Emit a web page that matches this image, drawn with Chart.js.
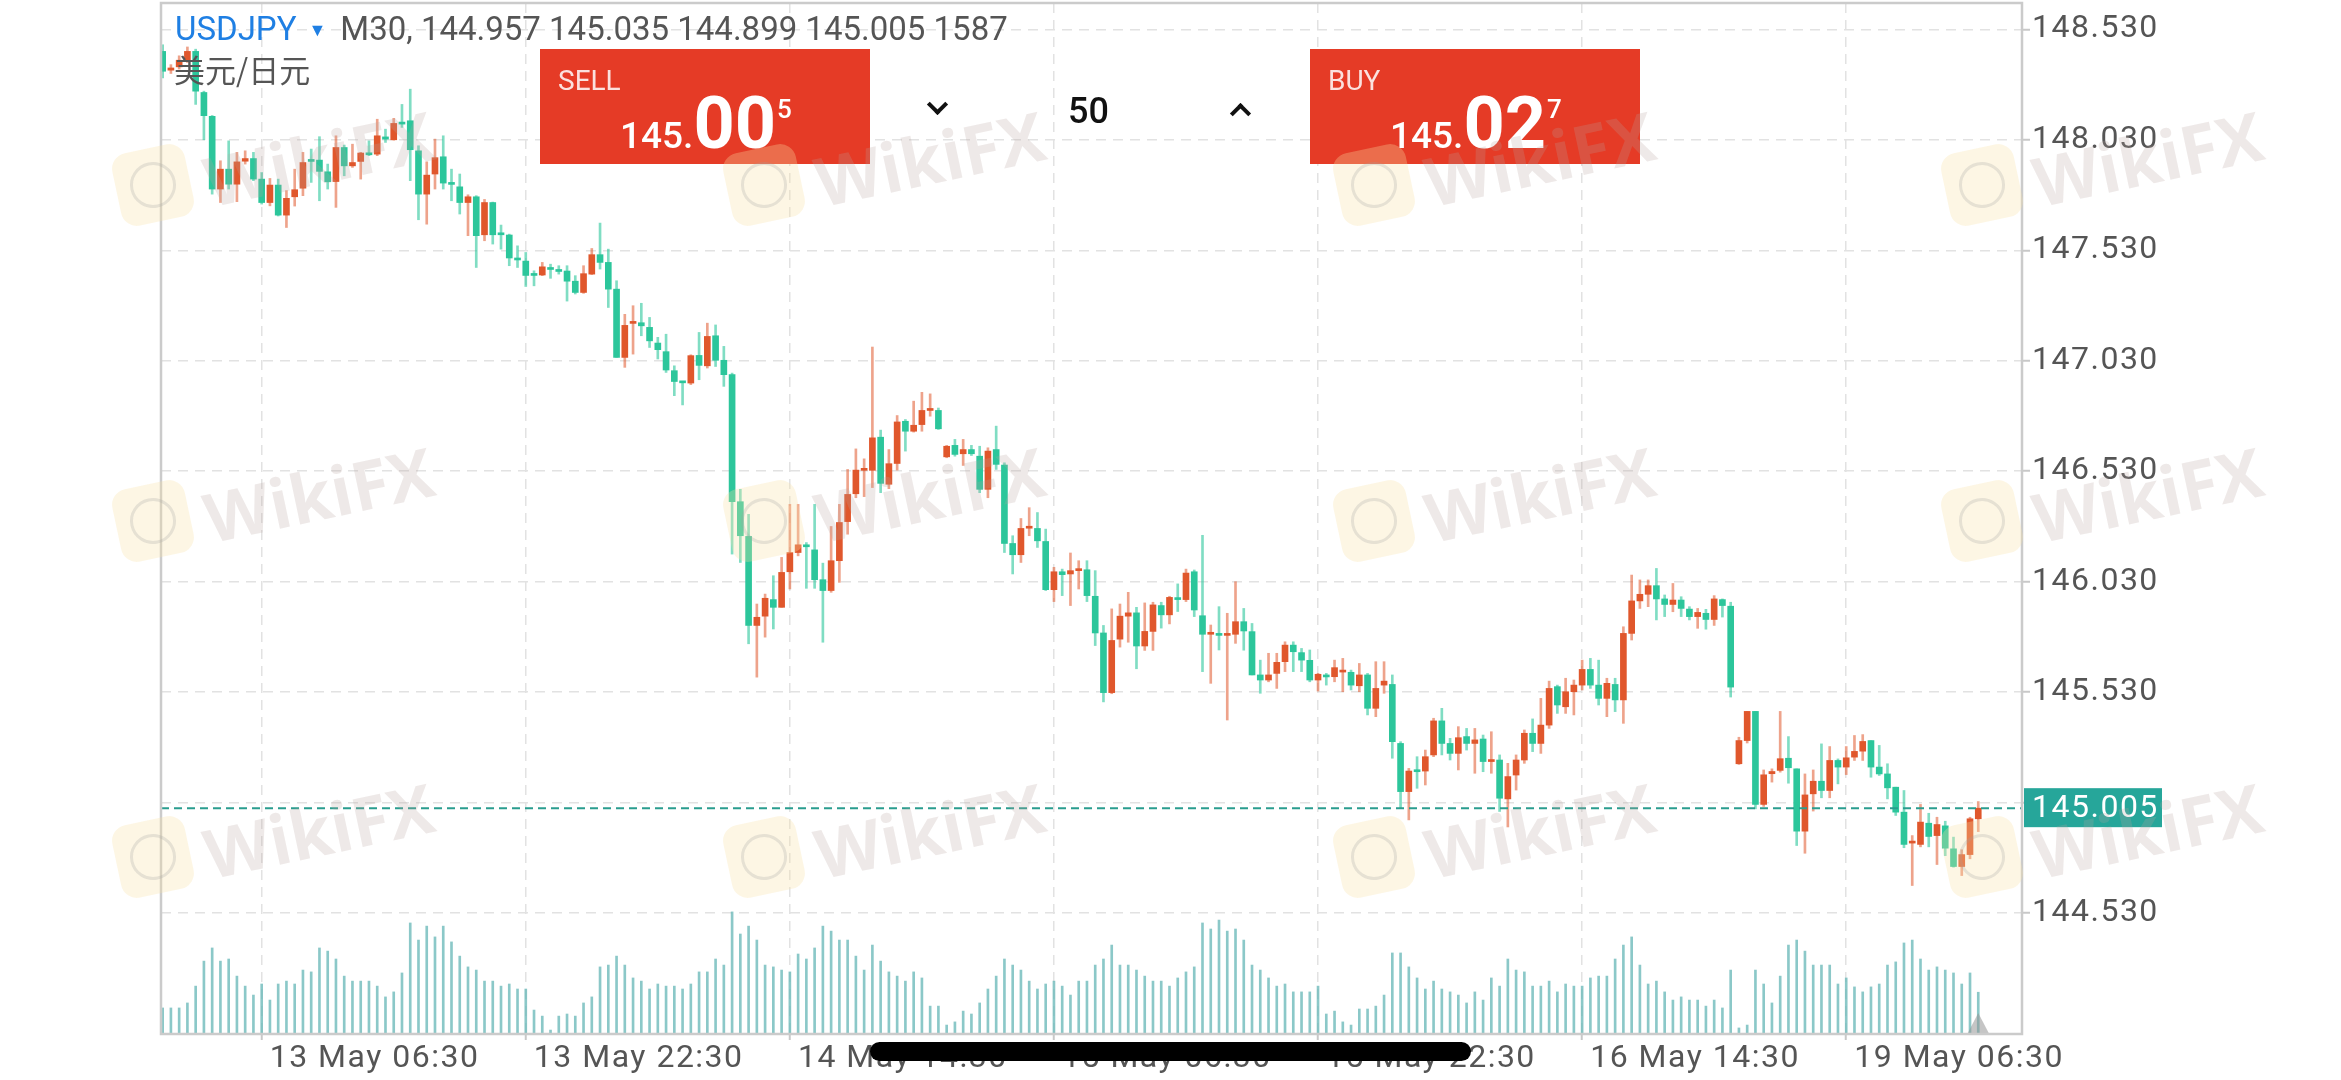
<!DOCTYPE html>
<html>
<head>
<meta charset="utf-8">
<script src="https://cdn.jsdelivr.net/npm/chart.js@4.4.1/dist/chart.umd.min.js"></script>
<style>
  body { margin: 0; background: #fff; overflow: hidden; }
  #wrap { position: relative; width: 2341px; height: 1080px; }
  canvas { position: absolute; left: 0; top: 0; }
  #hdr { position: absolute; left: 175px; top: 9px; font: 33px Roboto, sans-serif; color: #555; white-space: nowrap; line-height: 40px; }
  #hdr .sym { color: #1f7fe3; }
  #hdr .tri { color: #1f7fe3; font-size: 18px; margin: 0 14px 0 12px; vertical-align: 4px; }
  #pair { position: absolute; left: 174px; top: 51px; font: 31px "Noto Sans CJK SC", sans-serif; color: #555; line-height: 36px; }
  .box { position: absolute; top: 49px; width: 330px; height: 115px; background: #e53b26; }
  .box .lbl { position: absolute; left: 18px; top: 18px; font: 28px Roboto, sans-serif; line-height: 1; color: rgba(255,255,255,0.85); }
  .box .px { position: absolute; left: 80px; bottom: 4px; color: #fff; font-family: Roboto, sans-serif; display: flex; align-items: baseline; line-height: 1; }
  .px .a { font-size: 37px; font-weight: 500; }
  .px .b { font-size: 72px; font-weight: 700; }
  .px .c { font-size: 26px; font-weight: 500; align-self: flex-start; margin-top: 8px; margin-left: 1px; }
  .chev { position: absolute; width: 11px; height: 11px; border: solid #111; }
  #lots { position: absolute; left: 1068px; top: 93px; font: 500 36px Roboto, sans-serif; color: #111; line-height: 1; }
  #pill { position: absolute; left: 870px; top: 1042px; width: 601px; height: 19px; border-radius: 10px; background: #000; }
  .wm { position: absolute; font: 700 68px "Open Sans", sans-serif; color: rgba(185,165,160,0.24); transform: rotate(-12deg); transform-origin: left center; white-space: nowrap; pointer-events: none; }
  .lg { position: absolute; width: 74px; height: 74px; border-radius: 16px; background: rgba(250,226,165,0.3); transform: rotate(-12deg); pointer-events: none; }
  .lg::after { content: ''; position: absolute; left: 14px; top: 14px; width: 40px; height: 40px; border-radius: 50%; border: 3px solid rgba(160,160,160,0.25); }
</style>
</head>
<body>
<div id="wrap">
  <canvas id="chart" width="2341" height="1080"></canvas>
  <div id="hdr"><span class="sym">USDJPY</span><span class="tri">▼</span><span id="ohlc"></span></div>
  <div id="pair">美元/日元</div>
  <div class="box" style="left:540px"><div class="lbl">SELL</div><div class="px" id="sellPx"></div></div>
  <div class="box" style="left:1310px"><div class="lbl">BUY</div><div class="px" id="buyPx"></div></div>
  <div class="chev" style="left:930px;top:97px;border-width:0 4px 4px 0;transform:rotate(45deg)"></div>
  <div id="lots">50</div>
  <div class="chev" style="left:1233px;top:106px;border-width:4px 0 0 4px;transform:rotate(45deg)"></div>
  <div id="pill"></div>
</div>
<script>
const opens = [
  148.430, 148.345, 148.360, 148.390, 148.430, 148.244, 148.136, 147.807, 147.897, 147.829,
  147.933, 147.945, 147.852, 147.746, 147.825, 147.689, 147.772, 147.811, 147.937, 147.938,
  147.885, 147.841, 147.995, 147.912, 147.932, 147.970, 147.965, 148.043, 148.030, 148.108,
  148.116, 147.980, 147.784, 147.875, 147.953, 147.831, 147.817, 147.746, 147.772, 147.600,
  147.746, 147.603, 147.599, 147.490, 147.481, 147.419, 147.418, 147.449, 147.440, 147.436,
  147.390, 147.339, 147.422, 147.510, 147.475, 147.354, 147.045, 147.199, 147.202, 147.181,
  147.110, 147.071, 146.985, 146.935, 146.929, 147.054, 147.007, 147.143, 147.032, 146.967,
  146.392, 146.235, 145.832, 145.874, 145.949, 145.914, 146.075, 146.162, 146.195, 146.174,
  146.039, 145.990, 146.125, 146.302, 146.428, 146.534, 146.534, 146.684, 146.471, 146.565,
  146.756, 146.711, 146.741, 146.805, 146.805, 146.595, 146.647, 146.609, 146.628, 146.598,
  146.448, 146.628, 146.558, 146.203, 146.152, 146.272, 146.271, 146.212, 145.994, 146.075,
  146.065, 146.080, 146.084, 145.964, 145.798, 145.528, 145.770, 145.874, 145.889, 145.739,
  145.805, 145.922, 145.880, 145.955, 145.949, 146.075, 145.876, 145.792, 145.792, 145.787,
  145.792, 145.849, 145.804, 145.608, 145.585, 145.615, 145.668, 145.743, 145.709, 145.674,
  145.585, 145.608, 145.600, 145.621, 145.620, 145.559, 145.608, 145.457, 145.562, 145.565,
  145.298, 145.080, 145.173, 145.173, 145.246, 145.400, 145.298, 145.253, 145.329, 145.298,
  145.318, 145.216, 145.223, 145.047, 145.155, 145.223, 145.344, 145.298, 145.381, 145.555,
  145.464, 145.532, 145.562, 145.633, 145.562, 145.502, 145.565, 145.495, 145.796, 145.943,
  145.973, 146.012, 145.952, 145.927, 145.947, 145.906, 145.872, 145.887, 145.859, 145.949,
  145.919, 145.206, 145.311, 145.443, 145.022, 145.161, 145.176, 145.231, 145.183, 144.901,
  145.070, 145.127, 145.085, 145.221, 145.191, 145.236, 145.263, 145.311, 145.191, 145.160,
  145.100, 144.987, 144.847, 144.841, 144.937, 144.881, 144.925, 144.821, 144.741, 144.795,
  144.957
];
const highs = [
  148.460, 148.370, 148.410, 148.450, 148.440, 148.250, 148.140, 147.935, 148.025, 147.973,
  147.980, 147.973, 147.882, 147.855, 147.852, 147.800, 147.897, 147.973, 147.988, 148.044,
  147.920, 148.048, 148.006, 148.010, 147.973, 148.025, 148.123, 148.078, 148.127, 148.190,
  148.259, 148.003, 147.930, 148.033, 148.048, 147.897, 147.875, 147.781, 147.777, 147.760,
  147.748, 147.644, 147.603, 147.550, 147.520, 147.437, 147.475, 147.467, 147.460, 147.460,
  147.415, 147.460, 147.538, 147.653, 147.535, 147.392, 147.240, 147.279, 147.290, 147.226,
  147.136, 147.150, 147.007, 146.937, 147.057, 147.158, 147.200, 147.192, 147.095, 146.974,
  146.448, 146.335, 145.929, 145.974, 146.057, 146.140, 146.380, 146.380, 146.207, 146.380,
  146.114, 146.280, 146.380, 146.538, 146.631, 146.586, 147.092, 146.716, 146.628, 146.782,
  146.764, 146.847, 146.887, 146.880, 146.816, 146.647, 146.674, 146.674, 146.647, 146.643,
  146.636, 146.734, 146.568, 146.238, 146.316, 146.365, 146.343, 146.268, 146.095, 146.087,
  146.160, 146.125, 146.125, 146.080, 145.832, 145.907, 145.929, 145.982, 145.914, 145.934,
  145.937, 145.937, 145.964, 146.020, 146.087, 146.083, 146.240, 145.834, 145.917, 145.887,
  146.030, 145.909, 145.841, 145.675, 145.706, 145.706, 145.758, 145.758, 145.728, 145.721,
  145.615, 145.615, 145.675, 145.683, 145.630, 145.660, 145.615, 145.668, 145.668, 145.608,
  145.306, 145.185, 145.238, 145.268, 145.412, 145.457, 145.321, 145.374, 145.366, 145.366,
  145.336, 145.351, 145.246, 145.208, 145.246, 145.359, 145.409, 145.502, 145.580, 145.562,
  145.593, 145.585, 145.675, 145.683, 145.675, 145.593, 145.593, 145.826, 146.060, 146.038,
  146.038, 146.090, 145.970, 146.022, 145.962, 145.917, 145.909, 145.905, 145.967, 145.952,
  145.937, 145.326, 145.443, 145.443, 145.178, 145.183, 145.443, 145.329, 145.183, 145.160,
  145.178, 145.296, 145.284, 145.228, 145.284, 145.334, 145.338, 145.311, 145.289, 145.206,
  145.100, 145.085, 144.881, 145.022, 144.982, 144.964, 144.946, 144.874, 144.817, 144.964,
  145.035
];
const lows = [
  148.310, 148.330, 148.350, 148.380, 148.190, 148.030, 147.784, 147.746, 147.807, 147.750,
  147.920, 147.845, 147.739, 147.731, 147.685, 147.633, 147.730, 147.777, 147.837, 147.754,
  147.807, 147.724, 147.867, 147.905, 147.852, 147.958, 147.958, 148.018, 148.028, 148.086,
  147.845, 147.668, 147.648, 147.807, 147.807, 147.754, 147.694, 147.596, 147.452, 147.573,
  147.558, 147.535, 147.460, 147.452, 147.366, 147.369, 147.415, 147.403, 147.422, 147.300,
  147.332, 147.335, 147.420, 147.445, 147.271, 147.045, 147.000, 147.060, 147.143, 147.090,
  147.038, 146.977, 146.872, 146.830, 146.922, 146.944, 146.997, 147.004, 146.914, 146.155,
  146.117, 145.749, 145.598, 145.779, 145.816, 145.914, 145.997, 146.147, 146.000, 146.000,
  145.756, 145.982, 146.027, 146.245, 146.410, 146.415, 146.456, 146.433, 146.451, 146.535,
  146.621, 146.707, 146.711, 146.779, 146.719, 146.591, 146.598, 146.556, 146.601, 146.433,
  146.410, 146.538, 146.162, 146.065, 146.117, 146.238, 146.185, 145.990, 145.940, 145.967,
  145.922, 145.997, 145.940, 145.741, 145.486, 145.523, 145.734, 145.756, 145.636, 145.719,
  145.719, 145.820, 145.839, 145.895, 145.940, 145.872, 145.623, 145.570, 145.721, 145.404,
  145.751, 145.720, 145.608, 145.525, 145.577, 145.547, 145.623, 145.623, 145.623, 145.577,
  145.535, 145.562, 145.577, 145.532, 145.540, 145.532, 145.427, 145.419, 145.525, 145.231,
  145.004, 144.952, 145.095, 145.110, 145.238, 145.246, 145.223, 145.178, 145.268, 145.163,
  145.170, 145.163, 144.990, 144.920, 145.087, 145.208, 145.261, 145.253, 145.366, 145.434,
  145.434, 145.427, 145.540, 145.547, 145.472, 145.419, 145.442, 145.389, 145.766, 145.909,
  145.917, 145.857, 145.872, 145.894, 145.872, 145.857, 145.819, 145.815, 145.832, 145.870,
  145.508, 145.203, 145.300, 145.002, 145.013, 145.123, 145.168, 145.118, 144.836, 144.801,
  144.992, 145.052, 145.052, 145.115, 145.157, 145.221, 145.221, 145.145, 145.153, 145.047,
  144.972, 144.826, 144.655, 144.830, 144.830, 144.750, 144.790, 144.738, 144.700, 144.776,
  144.899
];
const closes = [
  148.340, 148.355, 148.390, 148.430, 148.250, 148.139, 147.807, 147.897, 147.829, 147.930,
  147.945, 147.852, 147.746, 147.825, 147.689, 147.765, 147.804, 147.927, 147.932, 147.887,
  147.840, 147.995, 147.912, 147.927, 147.970, 147.962, 148.048, 148.033, 148.104, 148.101,
  147.985, 147.784, 147.870, 147.949, 147.834, 147.828, 147.746, 147.772, 147.596, 147.746,
  147.600, 147.600, 147.495, 147.486, 147.416, 147.416, 147.455, 147.443, 147.434, 147.390,
  147.339, 147.424, 147.510, 147.475, 147.354, 147.045, 147.190, 147.203, 147.188, 147.120,
  147.080, 146.988, 146.936, 146.930, 147.053, 147.009, 147.140, 147.032, 146.967, 146.392,
  146.238, 145.832, 145.869, 145.955, 145.914, 146.072, 146.162, 146.197, 146.188, 146.039,
  145.990, 146.125, 146.298, 146.425, 146.535, 146.538, 146.681, 146.475, 146.564, 146.753,
  146.711, 146.738, 146.805, 146.809, 146.722, 146.643, 146.606, 146.628, 146.609, 146.448,
  146.621, 146.561, 146.203, 146.152, 146.271, 146.276, 146.215, 145.994, 146.075, 146.062,
  146.080, 146.084, 145.967, 145.798, 145.528, 145.764, 145.874, 145.889, 145.739, 145.805,
  145.925, 145.880, 145.959, 145.949, 146.069, 145.902, 145.792, 145.795, 145.787, 145.792,
  145.849, 145.807, 145.608, 145.585, 145.608, 145.665, 145.743, 145.713, 145.675, 145.585,
  145.611, 145.599, 145.641, 145.625, 145.562, 145.608, 145.457, 145.547, 145.580, 145.306,
  145.080, 145.173, 145.170, 145.238, 145.400, 145.298, 145.253, 145.324, 145.298, 145.314,
  145.216, 145.223, 145.050, 145.148, 145.223, 145.344, 145.298, 145.381, 145.547, 145.472,
  145.532, 145.562, 145.633, 145.562, 145.502, 145.570, 145.495, 145.796, 145.943, 145.973,
  146.012, 145.952, 145.927, 145.947, 145.909, 145.872, 145.891, 145.859, 145.952, 145.922,
  145.553, 145.311, 145.443, 145.022, 145.156, 145.171, 145.229, 145.188, 144.901, 145.065,
  145.127, 145.085, 145.221, 145.191, 145.233, 145.262, 145.307, 145.191, 145.160, 145.097,
  144.987, 144.841, 144.851, 144.942, 144.877, 144.931, 144.824, 144.741, 144.795, 144.957,
  145.005
];
const volumes = [
  990, 990, 990, 1180, 1820, 2770, 3270, 2770, 2850, 2200,
  1820, 1480, 1900, 1290, 1900, 2010, 1900, 2430, 2360, 3270,
  3150, 2850, 2200, 2010, 2010, 2010, 1820, 1410, 1600, 2320,
  4220, 3570, 4100, 3690, 4100, 3500, 2960, 2550, 2430, 2010,
  2010, 1820, 1900, 1710, 1710, 910, 680, 150, 680, 760,
  680, 1180, 1410, 2550, 2620, 2960, 2620, 2130, 2010, 1710,
  1900, 1820, 1820, 1710, 1900, 2360, 2360, 2850, 2620, 4640,
  3800, 4100, 3570, 2620, 2550, 2430, 2360, 3040, 2850, 3270,
  4100, 3910, 3570, 3570, 2960, 2430, 3380, 2770, 2360, 2200,
  2010, 2360, 2130, 1060, 1060, 340, 460, 870, 760, 1180,
  1710, 2200, 2850, 2620, 2430, 2010, 1710, 1900, 2010, 1820,
  1480, 2010, 2010, 2620, 2850, 3380, 2620, 2620, 2430, 2200,
  2010, 2010, 1820, 2130, 2360, 2550, 4220, 3990, 4330, 3910,
  3990, 3570, 2620, 2430, 2130, 1820, 1900, 1600, 1600, 1600,
  1820, 760, 870, 460, 340, 950, 950, 1060, 1480, 3080,
  3080, 2550, 2130, 1710, 2010, 1710, 1600, 1480, 1180, 1600,
  1290, 2130, 1820, 2850, 2430, 2360, 1820, 1820, 2010, 1600,
  1900, 1820, 1820, 2130, 2200, 2200, 2850, 3380, 3690, 2620,
  1900, 2010, 1600, 1290, 1410, 1290, 1290, 1060, 1290, 990,
  2430, 230, 340, 2430, 1900, 1180, 2200, 3380, 3570, 3150,
  2620, 2620, 2620, 1900, 2130, 1790, 1600, 1790, 1900, 2620,
  2740, 3460, 3570, 2850, 2430, 2550, 2430, 2320, 1900, 2320,
  1587
];
const tickIdx = [12, 44, 76, 108, 140, 172, 204];
const tickText = ['13 May 06:30', '13 May 22:30', '14 May 14:30', '15 May 06:30', '15 May 22:30', '16 May 14:30', '19 May 06:30'];
const yTicks = [144.53, 145.03, 145.53, 146.03, 146.53, 147.03, 147.53, 148.03, 148.53];
const sellPrice = '145.005';
const buyPrice = '145.027';

const GREEN = '#2cc69b';
const RED = '#e0572c';
const isUp = i => closes[i] >= opens[i];
const last = closes.length - 1;

// header + quote boxes
document.getElementById('ohlc').textContent =
    'M30, ' + [opens[last], highs[last], lows[last], closes[last]].map(v => v.toFixed(3)).join(' ') + ' ' + volumes[last];
function quoteHtml(p) {
    return `<span class="a">${p.slice(0, 4)}</span><span class="b">${p.slice(4, 6)}</span><span class="c">${p.slice(6)}</span>`;
}
document.getElementById('sellPx').innerHTML = quoteHtml(sellPrice);
document.getElementById('buyPx').innerHTML = quoteHtml(buyPrice);

// watermark
const wrap = document.getElementById('wrap');
[0, 336, 672].forEach(dy => {
    [0, 611, 1221, 1829].forEach(dx => {
        const lg = document.createElement('div');
        lg.className = 'lg';
        lg.style.left = (116 + dx) + 'px';
        lg.style.top = (148 + dy) + 'px';
        wrap.appendChild(lg);
        const t = document.createElement('div');
        t.className = 'wm';
        t.textContent = 'WikiFX';
        t.style.left = (205 + dx) + 'px';
        t.style.top = (135 + dy) + 'px';
        wrap.appendChild(t);
    });
});

const decor = {
    id: 'decor',
    beforeDraw(chart) {
        chart.ctx.letterSpacing = '1.5px';
    },
    afterDatasetsDraw(chart) {
        const { ctx, chartArea, scales } = chart;
        const y = scales.y.getPixelForValue(closes[last]);
        ctx.save();
        ctx.strokeStyle = '#2a9d8f';
        ctx.lineWidth = 2;
        ctx.setLineDash([8, 5]);
        ctx.beginPath();
        ctx.moveTo(chartArea.left, y);
        ctx.lineTo(chartArea.right, y);
        ctx.stroke();
        // marker under the live bar
        const x = scales.x.getPixelForValue(last);
        ctx.setLineDash([]);
        ctx.fillStyle = 'rgba(150,150,150,0.55)';
        ctx.beginPath();
        ctx.moveTo(x - 11, chartArea.bottom);
        ctx.lineTo(x, chartArea.bottom - 21);
        ctx.lineTo(x + 11, chartArea.bottom);
        ctx.closePath();
        ctx.fill();
        ctx.restore();
    },
    afterDraw(chart) {
        const { ctx, chartArea, scales } = chart;
        ctx.save();
        ctx.strokeStyle = '#cbcbcb';
        ctx.lineWidth = 2.5;
        ctx.strokeRect(chartArea.left, chartArea.top, chartArea.right - chartArea.left, chartArea.bottom - chartArea.top);
        const y = scales.y.getPixelForValue(closes[last]);
        ctx.fillStyle = '#26a69a';
        ctx.fillRect(chartArea.right + 2, y - 20, 138, 39);
        ctx.fillStyle = '#fff';
        ctx.font = '32px Roboto';
        ctx.textBaseline = 'middle';
        ctx.fillText(closes[last].toFixed(3), chartArea.right + 10, y + 1);
        ctx.restore();
        ctx.letterSpacing = '0px';
    }
};

new Chart(document.getElementById('chart'), {
    type: 'bar',
    data: {
        datasets: [
            {
                label: 'body',
                data: opens.map((o, i) => ({ x: i, y: [o, closes[i]] })),
                order: 0,
                grouped: false,
                barThickness: 6,
                minBarLength: 2,
                backgroundColor: c => isUp(c.dataIndex) ? RED : GREEN
            },
            {
                label: 'wick',
                data: opens.map((o, i) => ({ x: i, y: [lows[i], highs[i]] })),
                order: 1,
                grouped: false,
                barThickness: 2,
                backgroundColor: c => isUp(c.dataIndex) ? 'rgba(224,87,44,0.55)' : 'rgba(44,198,155,0.6)'
            },
            {
                label: 'volume',
                data: volumes.map((v, i) => ({ x: i, y: v })),
                yAxisID: 'yv',
                order: 2,
                grouped: false,
                barThickness: 2,
                backgroundColor: 'rgba(110,186,186,0.8)'
            }
        ]
    },
    options: {
        responsive: false,
        animation: false,
        events: [],
        layout: { padding: { left: 161, top: 3, right: 0, bottom: 0 } },
        plugins: { legend: { display: false }, tooltip: { enabled: false } },
        scales: {
            x: {
                type: 'linear',
                min: -0.2,
                max: 225.3,
                offset: false,
                afterBuildTicks: ax => { ax.ticks = tickIdx.map(v => ({ value: v })); },
                afterFit: ax => { ax.height = 46; ax.paddingLeft = 0; ax.paddingRight = 0; },
                ticks: {
                    autoSkip: false,
                    maxRotation: 0,
                    align: 'start',
                    padding: 0,
                    color: '#555',
                    font: { family: 'Roboto', size: 32 },
                    callback: (v, i) => '\u2009' + tickText[i]
                },
                grid: { color: '#e2e2e2', lineWidth: 1.5, tickLength: 6, tickColor: '#c8c8c8', tickWidth: 2, offset: false },
                border: { display: false, dash: [10, 7] }
            },
            y: {
                position: 'right',
                min: 143.983,
                max: 148.649,
                afterBuildTicks: ax => { ax.ticks = yTicks.map(v => ({ value: v })); },
                afterFit: ax => { ax.width = 319; ax.paddingTop = 0; ax.paddingBottom = 0; },
                ticks: {
                    padding: 2,
                    color: '#555',
                    font: { family: 'Roboto', size: 32 },
                    callback: v => v.toFixed(3)
                },
                grid: { color: '#e2e2e2', lineWidth: 1.5, tickLength: 8, tickColor: '#c8c8c8', tickWidth: 2 },
                border: { display: false, dash: [10, 7] }
            },
            yv: {
                display: false,
                min: 0,
                max: 39180
            }
        }
    },
    plugins: [decor]
});
</script>
</body>
</html>
